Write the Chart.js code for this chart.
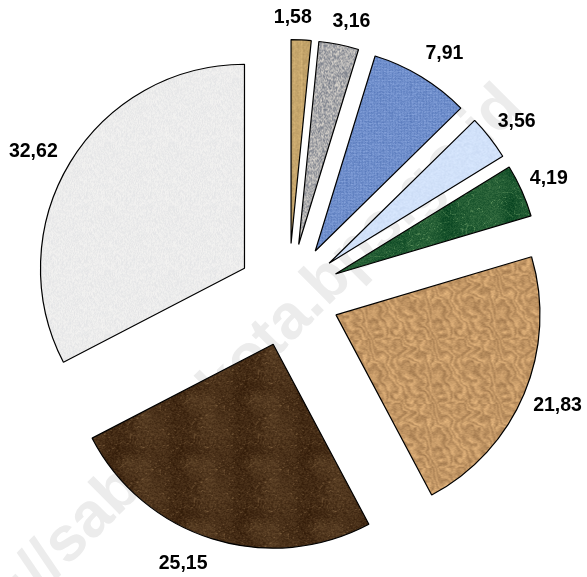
<!DOCTYPE html>
<html>
<head>
<meta charset="utf-8">
<title>Pie chart</title>
<script src="https://cdn.jsdelivr.net/npm/chart.js@4/dist/chart.umd.min.js"></script>
<style>
  html, body { margin: 0; padding: 0; background: #fff; }
  #wrap { width: 587px; height: 577px; position: relative; }
</style>
</head>
<body>
<div id="wrap"><canvas id="pie-chart"></canvas></div>
<script>
// Data (clockwise from 12 o'clock)
const categories = ['K1', 'K2', 'K3', 'K4', 'K5', 'K6', 'K7', 'K8'];
const values = [1.58, 3.16, 7.91, 3.56, 4.19, 21.83, 25.15, 32.62];

// Look & feel
const EXPLODE = 51.5;     // distance each slice is pulled out
const PIE_RADIUS = 204;
const LABEL_GAP = 14;
const LABEL_FONT = 'bold 19.5px "Liberation Sans", Arial, sans-serif';
// small hand tweaks of label placement, relative to the computed spot
const LABEL_NUDGE = [[-10, -1], [6, -2], [6, -5], [1, -3], [-3, -3], [-2, 4], [-18, 5], [-4, 0]];

// deterministic hash noise for the fill textures
function hash(x, y, s) {
    const h = Math.sin(x * 127.1 + y * 311.7 + s * 74.7) * 43758.5453;
    return h - Math.floor(h);
}

function vnoise(x, y, cell, s, size) {
    const n = size / cell;
    const gx = x / cell, gy = y / cell;
    const x0 = Math.floor(gx), y0 = Math.floor(gy);
    const fx = gx - x0, fy = gy - y0;
    const sx = fx * fx * (3 - 2 * fx), sy = fy * fy * (3 - 2 * fy);
    const h = (i, j) => hash(((i % n) + n) % n, ((j % n) + n) % n, s);
    const a = h(x0, y0), b = h(x0 + 1, y0), c = h(x0, y0 + 1), d = h(x0 + 1, y0 + 1);
    return (a + (b - a) * sx) * (1 - sy) + (c + (d - c) * sx) * sy;
}

function makeTexture(kind, base, seed) {
    const size = 64;
    const cv = document.createElement('canvas');
    cv.width = size; cv.height = size;
    const c = cv.getContext('2d');
    const img = c.createImageData(size, size);
    for (let y = 0; y < size; y++) {
        for (let x = 0; x < size; x++) {
            const fine = hash(x, y, seed) - 0.5;
            let k = 0;
            if (kind === 'granite') {
                k = fine * 110;
            } else if (kind === 'canvas') {
                k = fine * 30 + (hash(x, 0, seed) - 0.5) * 25;
            } else if (kind === 'fabric') {
                k = fine * 28 + ((x % 3 === 0) ? -10 : 0) + ((y % 3 === 0) ? 8 : 0);
            } else if (kind === 'soft') {
                k = fine * 16;
            } else if (kind === 'marble') {
                const v = Math.abs(Math.sin((x - y) * 0.12 + vnoise(x, y, 8, seed, size) * 7));
                k = fine * 25 + (v < 0.15 ? 45 * (1 - v / 0.15) : 0) + (vnoise(x, y, 16, seed + 3, size) - 0.5) * 30;
            } else if (kind === 'paper') {
                const n1 = vnoise(x, y, 4, seed, size);
                const n2 = vnoise(x, y, 8, seed + 9, size);
                const w = Math.sin((x * 0.5 - y * 0.28) * 1.3 + n2 * 10 + n1 * 4);
                k = fine * 22 + w * 16 + (n1 - 0.5) * 30;
            } else if (kind === 'leather') {
                const v = Math.abs(Math.sin((x + y * 0.6) * 0.2 + vnoise(x, y, 8, seed, size) * 9));
                const big = vnoise(x, y, 16, seed + 5, size);
                k = fine * 34 + (v < 0.12 ? 45 * (1 - v / 0.12) : 0) + (big - 0.5) * 24;
            }
            const i = (y * size + x) * 4;
            img.data[i] = Math.max(0, Math.min(255, base[0] + k));
            img.data[i + 1] = Math.max(0, Math.min(255, base[1] + k * 0.9));
            img.data[i + 2] = Math.max(0, Math.min(255, base[2] + k * 0.7));
            img.data[i + 3] = 255;
        }
    }
    c.putImageData(img, 0, 0);
    return c.createPattern(cv, 'repeat');
}

const sliceFills = [
    makeTexture('canvas', [198, 166, 108], 1),
    makeTexture('granite', [170, 170, 172], 2),
    makeTexture('fabric', [112, 143, 204], 3),
    makeTexture('soft', [210, 226, 250], 4),
    makeTexture('marble', [30, 88, 48], 5),
    makeTexture('paper', [196, 152, 102], 6),
    makeTexture('leather', [72, 47, 24], 7),
    makeTexture('soft', [236, 236, 236], 8)
];

// faint site watermark behind the pie
const watermarkPlugin = {
    id: 'watermark',
    beforeDatasetsDraw(chart) {
        const ctx = chart.ctx;
        ctx.save();
        ctx.translate(234, 400);
        ctx.rotate(-Math.PI / 4);
        ctx.font = 'bold 63px "Liberation Sans", Arial, sans-serif';
        ctx.fillStyle = '#ececec';
        ctx.textAlign = 'center';
        ctx.textBaseline = 'alphabetic';
        ctx.fillText('http://sabangkota.bps.go.id', 0, 0);
        ctx.restore();
    }
};

// pull every slice out from the centre
const explodePlugin = {
    id: 'explode',
    beforeDatasetDraw(chart, args) {
        const ctx = chart.ctx;
        args.meta.data.forEach(arc => {
            const mid = (arc.startAngle + arc.endAngle) / 2;
            ctx.save();
            ctx.translate(Math.cos(mid) * EXPLODE, Math.sin(mid) * EXPLODE);
            arc.draw(ctx);
            ctx.restore();
        });
        return false;
    }
};

// value labels outside each slice
const labelPlugin = {
    id: 'outsideLabels',
    afterDatasetsDraw(chart) {
        const ctx = chart.ctx;
        const meta = chart.getDatasetMeta(0);
        ctx.save();
        ctx.font = LABEL_FONT;
        ctx.fillStyle = '#000';
        ctx.textAlign = 'center';
        ctx.textBaseline = 'middle';
        meta.data.forEach((arc, i) => {
            const mid = (arc.startAngle + arc.endAngle) / 2;
            const dx = Math.cos(mid), dy = Math.sin(mid);
            const text = values[i].toFixed(2).replace('.', ',');
            const w = ctx.measureText(text).width;
            const h = 14;
            const r = EXPLODE + arc.outerRadius + LABEL_GAP;
            const nudge = LABEL_NUDGE[i] || [0, 0];
            const x = arc.x + dx * r + dx * w / 2 + nudge[0];
            const y = arc.y + dy * r + dy * h / 2 + nudge[1];
            ctx.fillText(text, x, y);
        });
        ctx.restore();
    }
};

const ctx = document.getElementById('pie-chart').getContext('2d');
const pieChart = new Chart(ctx, {
    type: 'pie',
    data: {
        labels: categories,
        datasets: [{
            data: values,
            backgroundColor: sliceFills,
            borderColor: '#000000',
            borderWidth: 1.2,
            radius: PIE_RADIUS
        }]
    },
    options: {
        responsive: true,
        maintainAspectRatio: false,
        animation: false,
        events: [],
        layout: { padding: { left: 0, right: 10, top: 13, bottom: 0 } },
        plugins: {
            legend: { display: false },
            tooltip: { enabled: false }
        }
    },
    plugins: [watermarkPlugin, explodePlugin, labelPlugin]
});
</script>
</body>
</html>
